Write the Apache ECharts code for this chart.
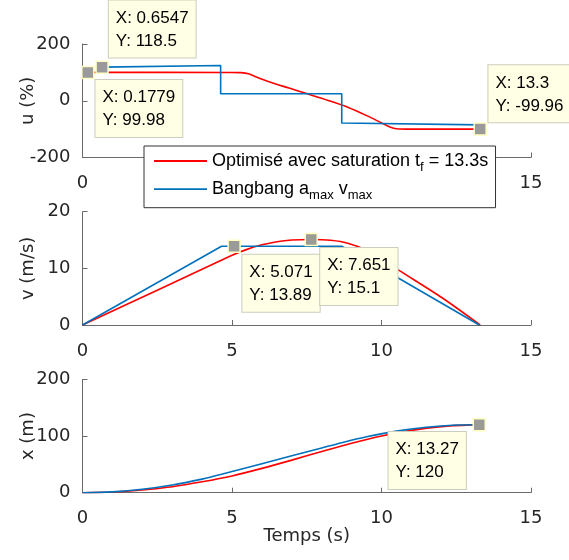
<!DOCTYPE html>
<html>
<head>
<meta charset="utf-8">
<script src="https://cdn.jsdelivr.net/npm/echarts@6/dist/echarts.min.js"></script>
<style>
html,body{margin:0;padding:0;background:#fff;}
#chart{width:569px;height:560px;}
</style>
</head>
<body>
<div id="chart"></div>
<script>
// ---- Data ----
var xTicks = [0, 5, 10, 15];
var uTicks = [-200, 0, 200];
var vTicks = [0, 10, 20];
var posTicks = [0, 100, 200];

// Subplot 1 : u (%)
var tU_opt = [0.1779, 5.0, 5.3, 5.55, 5.77, 6.21, 6.88, 7.55, 8.22, 8.89, 9.56, 10.0, 10.3, 10.5, 11.0, 13.3];
var u_opt  = [99.98, 99.8, 99, 95, 85.5, 68, 45.5, 23.5, 1, -23.4, -55, -78, -93, -98.5, -100, -99.96];
var tU_bb  = [0.6547, 4.62, 4.62, 8.67, 8.67, 13.3];
var u_bb   = [118.5, 124, 24.6, 24.6, -78.6, -85];

// Subplot 2 : v (m/s)
var tV_opt = [0, 2.5, 5.0, 5.5, 6.0, 6.5, 7.0, 7.651, 8.3, 8.9, 9.5, 10.1, 10.6, 12.0, 13.3];
var v_opt  = [0, 6.15, 12.3, 13.35, 14.15, 14.7, 15.0, 15.1, 14.95, 14.4, 13.2, 11.3, 9.6, 4.9, 0];
var tV_bb  = [0, 4.65, 5.071, 8.67, 10.56, 13.27];
var v_bb   = [0, 13.89, 13.89, 13.89, 8.3, 0];

// Subplot 3 : x (m)
var tX_opt = [0, 1, 2, 3, 4, 5, 6, 7, 8, 9, 10, 11, 12, 13, 13.3];
var x_opt  = [0, 1.2, 4.8, 10.6, 19.3, 29.6, 42.9, 57.5, 72.6, 87.2, 100.1, 110.0, 116.7, 119.8, 120];
var tX_bb  = [0, 1, 2, 3, 4, 4.65, 6, 8, 8.67, 9.5, 10.5, 11.5, 12.5, 13.27];
var x_bb   = [0, 1.5, 6, 13.5, 24, 32.4, 51.2, 79, 88.3, 98.8, 108.7, 115.5, 119.4, 120];

// Data tips
var tipsU = [[0.6547, 118.5], [0.1779, 99.98], [13.3, -99.96]];
var tipsV = [[5.071, 13.89], [7.651, 15.1]];
var tipsX = [[13.27, 120]];
var tipLabelsU = [['0.6547', '118.5'], ['0.1779', '99.98'], ['13.3', '-99.96']];
var tipLabelsV = [['5.071', '13.89'], ['7.651', '15.1']];
var tipLabelsX = [['13.27', '120']];

var seriesNames = ['opt', 'bb'];

// ---- Build the chart ----
function zip(a, b) { return a.map(function (v, i) { return [v, b[i]]; }); }

var RED = '#ff0000', BLUE = '#0072bd';
var AXC = '#6a6a6a', TXT = '#262626';
var tickFont = 'DejaVu Sans';

var grids = [
  {left: 82.5, width: 448.5, top: 44, height: 113.5},
  {left: 82.5, width: 448.5, top: 211.7, height: 113.3},
  {left: 82.5, width: 448.5, top: 379.4, height: 113.3}
];

function xAxisDef(i) {
  var ax = {
    type: 'value', gridIndex: i, min: xTicks[0], max: xTicks[xTicks.length - 1],
    interval: xTicks[1] - xTicks[0],
    axisLine: {show: true, onZero: false, lineStyle: {color: AXC, width: 1}},
    axisTick: {show: true, inside: true, length: 5, lineStyle: {color: AXC, width: 1}},
    axisLabel: {show: true, margin: 17, fontSize: 18, fontFamily: tickFont, color: TXT,
      showMinLabel: true, showMaxLabel: true},
    splitLine: {show: false}
  };
  if (i === 2) {
    ax.name = 'Temps (s)';
    ax.nameLocation = 'middle';
    ax.nameGap = 35;
    ax.nameMoveOverlap = false;
    ax.nameTextStyle = {fontSize: 18, fontFamily: tickFont, color: TXT, verticalAlign: 'top'};
  }
  return ax;
}
function yAxisDef(i, ticks, name) {
  return {
    type: 'value', gridIndex: i, min: ticks[0], max: ticks[ticks.length - 1],
    interval: ticks[1] - ticks[0],
    name: name, nameLocation: 'middle', nameGap: 45, nameMoveOverlap: false,
    nameTextStyle: {fontSize: 18, fontFamily: tickFont, color: TXT},
    axisLine: {show: true, onZero: false, lineStyle: {color: AXC, width: 1}},
    axisTick: {show: true, inside: true, length: 5, lineStyle: {color: AXC, width: 1}},
    axisLabel: {show: true, margin: 12, fontSize: 18, fontFamily: tickFont, color: TXT,
      showMinLabel: true, showMaxLabel: true},
    splitLine: {show: false}
  };
}

function lineSeries(name, color, data, gi, smooth) {
  return {
    type: 'line', name: name, xAxisIndex: gi, yAxisIndex: gi, data: data,
    symbol: 'none', showSymbol: false, smooth: smooth || false,
    lineStyle: {color: color, width: 1.6}, itemStyle: {color: color},
    silent: true, z: 2
  };
}

// label placement of each data tip, relative to the marker
var tipPlace = {
  u: [
    {position: [13.5, -3], align: 'left', verticalAlign: 'bottom'},
    {position: [14.4, 14.4], align: 'left', verticalAlign: 'top'},
    {position: [15, 0], align: 'left', verticalAlign: 'bottom'}
  ],
  v: [
    {position: [15, 15.3], align: 'left', verticalAlign: 'top'},
    {position: [15.7, 15.3], align: 'left', verticalAlign: 'top'}
  ],
  x: [
    {position: [-84, 14], align: 'left', verticalAlign: 'top'}
  ]
};

function tipSeries(gi, pts, labels, place) {
  return {
    type: 'scatter', xAxisIndex: gi, yAxisIndex: gi, silent: true, z: 5,
    symbol: 'rect', symbolSize: 12,
    itemStyle: {color: '#9a9a9a', borderColor: '#ffffc4', borderWidth: 1.5, opacity: 1},
    data: pts.map(function (p, k) {
      return {
        value: p,
        label: Object.assign({
          show: true,
          formatter: 'X: ' + labels[k][0] + '\nY: ' + labels[k][1],
          fontSize: 17, fontFamily: 'Liberation Sans', color: '#000', lineHeight: 23,
          backgroundColor: '#ffffe6', borderColor: '#cdcdbd', borderWidth: 1,
          padding: [6, 7, 5, 7]
        }, place[k])
      };
    })
  };
}

var legendRich = {
  a: {fontSize: 18, fontFamily: 'Liberation Sans', color: '#000', lineHeight: 20, verticalAlign: 'middle'},
  s: {fontSize: 13, fontFamily: 'Liberation Sans', color: '#000', lineHeight: 9, verticalAlign: 'bottom'},
  z: {fontSize: 1, lineHeight: 25, verticalAlign: 'middle'}
};

var option = {
  animation: false,
  backgroundColor: '#fff',
  grid: grids,
  xAxis: [xAxisDef(0), xAxisDef(1), xAxisDef(2)],
  yAxis: [yAxisDef(0, uTicks, 'u (%)'), yAxisDef(1, vTicks, 'v (m/s)'), yAxisDef(2, posTicks, 'x (m)')],
  legend: {
    data: seriesNames, orient: 'vertical', left: 144, top: 146,
    icon: 'rect', itemWidth: 53, itemHeight: 1.8, itemGap: 6.7,
    padding: [6, 7, 6, 10],
    backgroundColor: '#fff', borderColor: '#333', borderWidth: 1,
    selectedMode: false,
    textStyle: {rich: legendRich},
    formatter: function (n) {
      if (n === 'opt') return '{a|Optimisé avec saturation t}{s|f}{a| = 13.3s}{z| }';
      return '{a|Bangbang a}{s|max}{a| v}{s|max}{z| }';
    }
  },
  series: [
    lineSeries('opt', RED, zip(tU_opt, u_opt), 0, 0.25),
    lineSeries('bb', BLUE, zip(tU_bb, u_bb), 0),
    lineSeries('opt', RED, zip(tV_opt, v_opt), 1, 0.3),
    lineSeries('bb', BLUE, zip(tV_bb, v_bb), 1),
    lineSeries('opt', RED, zip(tX_opt, x_opt), 2, 0.3),
    lineSeries('bb', BLUE, zip(tX_bb, x_bb), 2, 0.3),
    tipSeries(0, tipsU, tipLabelsU, tipPlace.u),
    tipSeries(1, tipsV, tipLabelsV, tipPlace.v),
    tipSeries(2, tipsX, tipLabelsX, tipPlace.x)
  ]
};

var chart = echarts.init(document.getElementById('chart'), null, {renderer: 'canvas'});
chart.setOption(option);
</script>
</body>
</html>
